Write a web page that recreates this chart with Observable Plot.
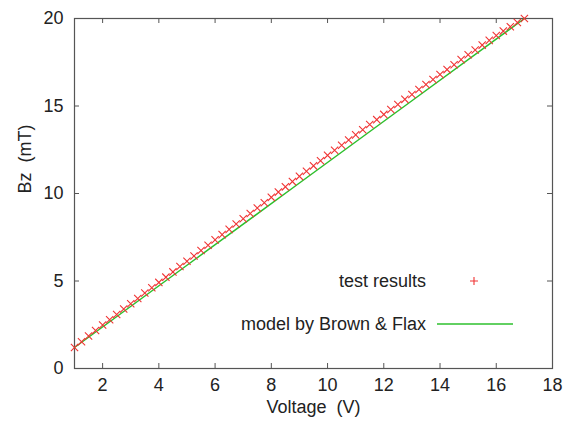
<!DOCTYPE html>
<html>
<head>
<meta charset="utf-8">
<script src="https://cdn.jsdelivr.net/npm/d3@7"></script>
<script src="https://cdn.jsdelivr.net/npm/@observablehq/plot@0.6"></script>
<style>
  html, body { margin: 0; padding: 0; background: #fff; }
  #chart { width: 565px; height: 428px; }
</style>
</head>
<body>
<div id="chart"></div>
<script>
// Voltage (V) of each test point
const voltage = [1.00,1.25,1.50,1.75,2.00,2.25,2.50,2.75,3.00,3.25,3.50,3.75,4.00,4.25,4.50,4.75,
  5.00,5.25,5.50,5.75,6.00,6.25,6.50,6.75,7.00,7.25,7.50,7.75,8.00,8.25,8.50,8.75,
  9.00,9.25,9.50,9.75,10.00,10.25,10.50,10.75,11.00,11.25,11.50,11.75,12.00,12.25,12.50,12.75,
  13.00,13.25,13.50,13.75,14.00,14.25,14.50,14.75,15.00,15.25,15.50,15.75,16.00,16.25,16.50,16.75,17.00];
// Bz (mT) test results
const bzTest = [1.20,1.53,1.86,2.17,2.49,2.79,3.09,3.40,3.70,4.00,4.31,4.61,4.92,5.22,5.52,5.83,
  6.13,6.43,6.74,7.04,7.35,7.65,7.95,8.26,8.56,8.86,9.17,9.47,9.78,10.08,10.38,10.68,
  10.98,11.27,11.58,11.87,12.18,12.47,12.76,13.06,13.35,13.64,13.94,14.22,14.52,14.80,15.09,15.38,
  15.66,15.94,16.23,16.51,16.80,17.08,17.36,17.65,17.93,18.20,18.48,18.75,19.03,19.28,19.53,19.77,20.00];
// Model by Brown & Flax
const modelV = [1.0, 5.0, 9.0, 13.0, 17.0];
const modelBz = [1.20, 5.90, 10.60, 15.30, 20.00];

const xTickLabels = [2,4,6,8,10,12,14,16,18];
const xTicks = [2,4,6,8,10,12,14,16];
const yTickLabels = [0,5,10,15,20];
const yTicks = [5,10,15];

const legendLabels = ["test results", "model by Brown & Flax"];
const xTitle = "Voltage\u00a0 (V)";
const yTitle = "Bz\u00a0 (mT)";

const W = 565, H = 428, mL = 74, mR = 13, mT = 18, mB = 60;
const fw = W - mL - mR, fh = H - mT - mB, tk = 5;
const frameColor = "#555";
const red = "#f03434", green = "#2ec02e";
const fs = 18;

const testData = voltage.map((v, i) => ({v, b: bzTest[i]}));
const modelData = modelV.map((v, i) => ({v, b: modelBz[i]}));

const chart = Plot.plot({
  width: W, height: H,
  marginLeft: mL, marginRight: mR, marginTop: mT, marginBottom: mB,
  style: {fontFamily: "Liberation Sans, Arial, sans-serif", fontSize: fs + "px", color: "#222", background: "#fff"},
  x: {domain: [1, 18]},
  y: {domain: [0, 20]},
  marks: [
    Plot.ruleX(xTicks, {x: d => d, insetTop: fh - tk, stroke: frameColor}),
    Plot.ruleX(xTicks, {x: d => d, insetBottom: fh - tk, stroke: frameColor}),
    Plot.ruleY(yTicks, {y: d => d, insetRight: fw - tk, stroke: frameColor}),
    Plot.ruleY(yTicks, {y: d => d, insetLeft: fw - tk, stroke: frameColor}),
    Plot.frame({stroke: frameColor, strokeWidth: 1.2}),
    Plot.axisX(xTickLabels, {tickSize: 0, tickPadding: 10, fontSize: fs, fill: "#222", label: null}),
    Plot.axisY(yTickLabels, {tickSize: 0, tickPadding: 11, fontSize: fs, fill: "#222", label: null}),
    Plot.line(modelData, {x: "v", y: "b", stroke: green, strokeWidth: 1.5}),
    Plot.dot(testData, {x: "v", y: "b", symbol: "times", r: 3.4, stroke: red, strokeWidth: 1.1}),
    Plot.text([xTitle], {frameAnchor: "bottom", dy: 44, fontSize: fs, fill: "#222"}),
    Plot.text([yTitle], {frameAnchor: "left", dx: -49, rotate: -90, fontSize: fs, fill: "#222"})
  ]
});

// legend inside the frame, lower right
const svg = d3.select(chart);
const lg = svg.append("g").attr("font-family", "Liberation Sans, Arial, sans-serif").attr("font-size", fs).attr("fill", "#222");
const textRight = mL + fw - 126;
const rowY = [H - mB - 87, H - mB - 44];
lg.append("text").attr("x", textRight).attr("y", rowY[0]).attr("text-anchor", "end").attr("dy", "0.35em").text(legendLabels[0]);
lg.append("text").attr("x", textRight).attr("y", rowY[1]).attr("text-anchor", "end").attr("dy", "0.35em").text(legendLabels[1]);
const px = textRight + 48;
lg.append("path").attr("d", `M${px-4},${rowY[0]}h8M${px},${rowY[0]-4}v8`).attr("stroke", red).attr("stroke-width", 1.1).attr("fill", "none");
lg.append("path").attr("d", `M${textRight+11},${rowY[1]}h76`).attr("stroke", green).attr("stroke-width", 1.5).attr("fill", "none");

document.getElementById("chart").appendChild(chart);
</script>
</body>
</html>
